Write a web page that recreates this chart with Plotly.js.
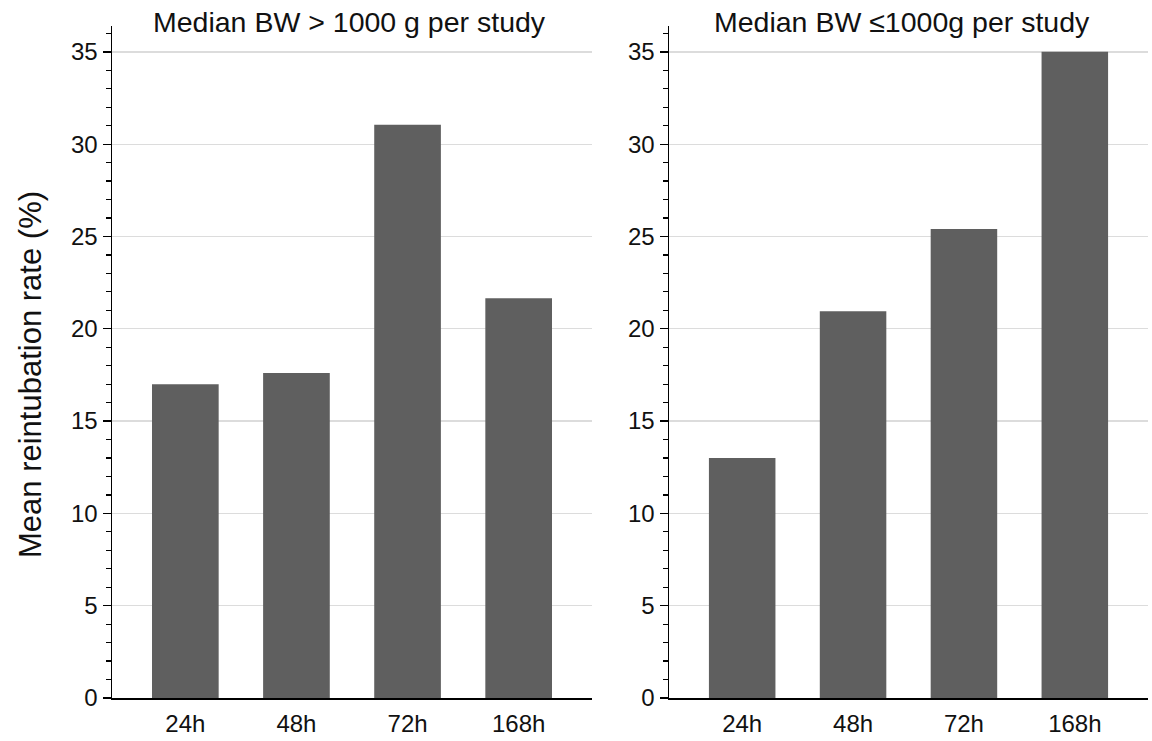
<!DOCTYPE html>
<html>
<head>
<meta charset="utf-8">
<script src="https://cdn.plot.ly/plotly-3.0.1.min.js"></script>
<style>html,body{margin:0;padding:0;background:#fff;}#chart{width:1152px;height:741px;}</style>
</head>
<body>
<div id="chart"></div>
<script>
const categories = ['24h', '48h', '72h', '168h'];
const valuesAbove1000 = [17.0, 17.6, 31.05, 21.65];
const valuesBelow1000 = [13.0, 20.95, 25.4, 35.0];
const panelTitles = ['Median BW > 1000 g per study', 'Median BW \u22641000g per study'];
const yTitle = 'Mean reintubation rate (%)';
const yTickVals = [0, 5, 10, 15, 20, 25, 30, 35];

const barColor = '#5f5f5f';
const font = 'Liberation Sans, Arial, sans-serif';

const traces = [
  {type: 'bar', x: categories, y: valuesAbove1000, xaxis: 'x', yaxis: 'y',
   marker: {color: barColor, line: {width: 0}}, width: 0.6, hoverinfo: 'none'},
  {type: 'bar', x: categories, y: valuesBelow1000, xaxis: 'x2', yaxis: 'y2',
   marker: {color: barColor, line: {width: 0}}, width: 0.6, hoverinfo: 'none'}
];

function xAx(domain, anchor) {
  return {domain: domain, anchor: anchor, type: 'category', range: [-0.66, 3.66],
    showline: true, linecolor: '#000', linewidth: 1.5, ticks: '', showgrid: false,
    ticklabelstandoff: 4,
    tickfont: {family: font, size: 24, color: '#111'}, fixedrange: true};
}
function yAx(anchor) {
  return {domain: [0, 1], anchor: anchor, range: [0, 36.4],
    tickvals: yTickVals, ticks: 'outside', ticklen: 8, tickwidth: 1.3, tickcolor: '#000',
    showline: true, linecolor: '#000', linewidth: 1.5,
    showgrid: true, gridcolor: '#dcdcdc', gridwidth: 1.3, zeroline: false,
    minor: {dtick: 1, ticks: 'outside', ticklen: 5, tickwidth: 1.2, tickcolor: '#000', showgrid: false},
    tickfont: {family: font, size: 24, color: '#111'}, fixedrange: true};
}

const layout = {
  width: 1152, height: 741,
  margin: {l: 0, r: 0, t: 26, b: 43},
  paper_bgcolor: '#fff', plot_bgcolor: '#fff',
  showlegend: false,
  bargap: 0.4,
  xaxis: xAx([112/1152, 592/1152], 'y'),
  yaxis: yAx('x'),
  xaxis2: xAx([669/1152, 1148/1152], 'y2'),
  yaxis2: yAx('x2'),
  annotations: [
    {text: panelTitles[0], xref: 'paper', yref: 'paper', x: 349/1152, y: (698-22)/672,
     xanchor: 'center', yanchor: 'middle', showarrow: false,
     font: {family: font, size: 28.5, color: '#111'}},
    {text: panelTitles[1], xref: 'paper', yref: 'paper', x: 902/1152, y: (698-22)/672,
     xanchor: 'center', yanchor: 'middle', showarrow: false,
     font: {family: font, size: 28.5, color: '#111'}},
    {text: yTitle, xref: 'paper', yref: 'paper', x: 30/1152, y: (698-375)/672,
     xanchor: 'center', yanchor: 'middle', textangle: -90, showarrow: false,
     font: {family: font, size: 31, color: '#111'}}
  ]
};

Plotly.newPlot('chart', traces, layout, {displayModeBar: false, staticPlot: true});
</script>
</body>
</html>
